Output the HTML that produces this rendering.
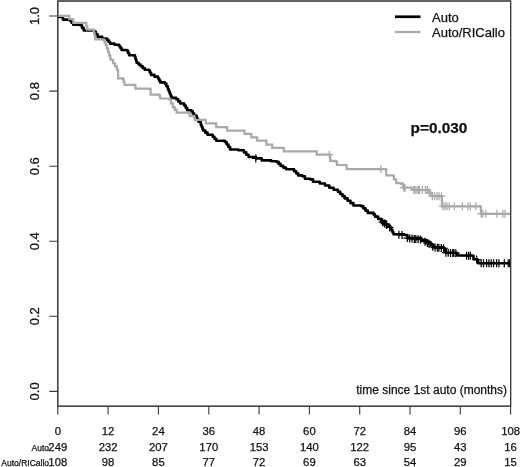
<!DOCTYPE html>
<html><head><meta charset="utf-8"><title>Survival</title>
<style>html,body{margin:0;padding:0;background:#fff;}body{width:520px;height:467px;position:relative;overflow:hidden;font-family:"Liberation Sans",sans-serif;}</style>
</head><body>
<svg width="520" height="467" viewBox="0 0 520 467" style="position:absolute;left:0;top:0;filter:grayscale(1)">
<rect x="57.8" y="1.0" width="452.84999999999997" height="405.2" fill="none" stroke="#3a3a3a" stroke-width="1.1"/>
<path d="M57.8,406.2V414.4M108.1,406.2V414.4M158.4,406.2V414.4M208.8,406.2V414.4M259.1,406.2V414.4M309.4,406.2V414.4M359.7,406.2V414.4M410.0,406.2V414.4M460.3,406.2V414.4M510.6,406.2V414.4M57.8,391.4H49.3M57.8,316.3H49.3M57.8,241.2H49.3M57.8,166.2H49.3M57.8,91.1H49.3M57.8,16.0H49.3" stroke="#3a3a3a" stroke-width="1.1" fill="none"/>
<defs><clipPath id="pc"><rect x="57.8" y="1.0" width="452.84999999999997" height="405.2"/></clipPath></defs><g clip-path="url(#pc)">
<path d="M58.0,17.0H62.90V19.60H69.90V20.70H71.60V22.75H73.30V24.80H80.3V25.3H82.00V27.90H83.70V30.50H94.20V31.70H95.90V34.30H97.60V36.90H102.20V38.60H106.90V39.80H108.45V41.70H110.00V43.60H114.50V44.80H119.20V46.20H120.40V48.10H121.60V50.00H126.8V50.6H127.95V52.90H129.10V55.20H134.90V57.00H135.47V58.90H136.03V60.80H136.60V62.70H138.60V64.45H140.60V66.20H142.65V67.95H144.70V69.70H148.7V70.3H149.85V72.60H151.00V74.90H154.50V76.65H158.00V78.40H159.15V80.40H160.30V82.40H164.90V83.60H166.35V86.30H167.80V89.00H168.73V91.22H169.65V93.45H170.57V95.68H171.50V97.90H176.20V99.30H178.20V101.40H180.20V103.50H184.20V105.50H185.70V107.85H187.20V110.20H191.40V111.20H192.80V113.50H194.20V115.80H196.70V118.00H197.60V119.90H198.50V121.80H200.80V124.90H201.60V126.77H202.40V128.63H203.20V130.50H205.35V132.65H207.50V134.80H212.70V136.80H214.45V138.80H216.20V140.80H224.90V142.00H226.63V144.50H228.37V147.00H230.10V149.50H238.2V150.3H243.90V152.40H246.25V154.70H248.60V157.00H256.00V158.40H261.70V160.40H271.2V161.2H276.6V161.9H278.60V163.90H280.60V165.90H283.30V167.60H286.00V169.30H294.10V171.30H296.15V173.35H298.20V175.40H302.20V176.30H304.90V178.70H310.3V179.4H313.00V181.70H319.80V183.50H325.00V185.50H329.30V187.80H333.60V189.75H337.90V191.70H340.17V193.93H342.43V196.17H344.70V198.40H347.60V200.77H350.50V203.13H353.40V205.50H361.0V206.1H363.27V208.37H365.53V210.63H367.80V212.90H373.60V214.40H375.0V216.6H378.10V218.90H381.20V221.20H385.80V224.30H388.10V226.20H390.40V228.10H391.43V230.17H392.47V232.23H393.50V234.30H404.3V235.0H407.40V238.10H421.20V239.70H425.80V242.00H430.50V244.80H433.50V247.40H443.5V248.1H444.65V250.40H445.80V252.70H456.6V253.2H457.3V255.5H472.7V255.8H473.5V259.2H477.4V259.7H478.1V263.2H510.5V263.2" stroke="#000" stroke-width="2.6" fill="none" stroke-linejoin="round"/>
<path d="M255.8,154.4V162.4M251.8,158.4H259.8M382.7,218.2V226.2M378.7,222.2H386.7M384.6,219.5V227.5M380.6,223.5H388.6M386.6,221.0V229.0M382.6,225.0H390.6M389.6,223.4V231.4M385.6,227.4H393.6M398.9,230.7V238.7M394.9,234.7H402.9M402.0,230.9V238.9M398.0,234.9H406.0M407.4,234.1V242.1M403.4,238.1H411.4M409.7,234.4V242.4M405.7,238.4H413.7M412.0,234.6V242.6M408.0,238.6H416.0M414.3,234.9V242.9M410.3,238.9H418.3M415.8,235.1V243.1M411.8,239.1H419.8M418.1,235.3V243.3M414.1,239.3H422.1M420.5,235.6V243.6M416.5,239.6H424.5M425.1,237.7V245.7M421.1,241.7H429.1M427.4,239.0V247.0M423.4,243.0H431.4M428.9,239.8V247.8M424.9,243.8H432.9M432.8,242.8V250.8M428.8,246.8H436.8M435.1,243.5V251.5M431.1,247.5H439.1M437.4,243.7V251.7M433.4,247.7H441.4M438.9,243.8V251.8M434.9,247.8H442.9M441.3,243.9V251.9M437.3,247.9H445.3M443.6,244.3V252.3M439.6,248.3H447.6M445.9,248.7V256.7M441.9,252.7H449.9M448.2,248.8V256.8M444.2,252.8H452.2M450.5,248.9V256.9M446.5,252.9H454.5M452.8,249.0V257.0M448.8,253.0H456.8M453.8,249.1V257.1M449.8,253.1H457.8M455.8,249.2V257.2M451.8,253.2H459.8M466.6,251.7V259.7M462.6,255.7H470.6M468.6,251.7V259.7M464.6,255.7H472.6M470.4,251.8V259.8M466.4,255.8H474.4M476.6,255.6V263.6M472.6,259.6H480.6M481.2,259.2V267.2M477.2,263.2H485.2M483.5,259.2V267.2M479.5,263.2H487.5M486.6,259.2V267.2M482.6,263.2H490.6M488.9,259.2V267.2M484.9,263.2H492.9M491.2,259.2V267.2M487.2,263.2H495.2M493.6,259.2V267.2M489.6,263.2H497.6M496.6,259.2V267.2M492.6,263.2H500.6M498.9,259.2V267.2M494.9,263.2H502.9M504.3,259.2V267.2M500.3,263.2H508.3M508.2,259.2V267.2M504.2,263.2H512.2M509.7,259.2V267.2M505.7,263.2H513.7" stroke="#000" stroke-width="1.25" fill="none"/>
<path d="M58.0,15.9H69.3V15.9H69.3V19.2H73.3V19.2H73.3V22.8H85.5V22.8H86.35V26.20H87.20V29.60H93.4V30.2H94.03V33.27H94.67V36.33H95.30V39.40H103.4V39.8H104.55V42.40H105.70V45.00H106.85V48.48H108.00V51.95H109.15V55.42H110.30V58.90H111.2V60.0H113.10V63.23H115.00V66.47H116.90V69.70H118.1V78.4H122.7V78.9H123.60V81.90H124.50V84.90H134.9V85.2H135.4V88.6H149.6V88.8H150.6V94.7H159.3V95.6H160.2V98.5H169.00V99.50H170.90V103.35H172.80V107.20H174.70V109.90H176.60V112.60H189.4V113.1H189.7V116.2H193.9V116.6H194.6V119.8H205.7V120.1H205.7V123.3H215.8V123.8H216.2V127.2H226.4V127.4H227.2V130.6H244.1V130.9H244.5V133.9H250.9V134.4H251.4V137.3H256.6V137.6H257.2V140.7H265.5V140.8H266.4V144.7H271.2V144.7H272.2V147.8H282.8V148.2H283.8V151.4H316.7V151.6H316.7V154.7H329.3V154.7H330.2V160.8H336.00V161.80H337.0V165.0H346.6V165.6H346.6V169.1H386.2V169.1H386.2V175.4H393.1V175.7H393.9V179.3H396.2V180.0H396.2V183.1H401.6V183.9H403.10V187.70H411.6V187.7H412.4V190.0H428.6V190.0H429.3V192.7H431.6V193.1H431.6V196.2H441.9V196.2H441.9V206.3H480.5V206.3H480.9V213.8H510.5V213.8" stroke="#a9a9a9" stroke-width="2.2" fill="none" stroke-linejoin="miter"/>
<path d="M329.3,150.7V158.7M325.3,154.7H333.3M381.0,165.1V173.1M377.0,169.1H385.0M403.8,183.7V191.7M399.8,187.7H407.8M405.0,183.7V191.7M401.0,187.7H409.0M413.9,186.0V194.0M409.9,190.0H417.9M415.1,186.0V194.0M411.1,190.0H419.1M417.0,186.0V194.0M413.0,190.0H421.0M418.5,186.0V194.0M414.5,190.0H422.5M419.6,186.0V194.0M415.6,190.0H423.6M422.4,186.0V194.0M418.4,190.0H426.4M425.5,186.0V194.0M421.5,190.0H429.5M427.3,186.0V194.0M423.3,190.0H431.3M429.3,188.7V196.7M425.3,192.7H433.3M432.4,192.2V200.2M428.4,196.2H436.4M434.7,192.2V200.2M430.7,196.2H438.7M437.0,192.2V200.2M433.0,196.2H441.0M439.0,192.2V200.2M435.0,196.2H443.0M441.5,192.2V200.2M437.5,196.2H445.5M443.0,202.3V210.3M439.0,206.3H447.0M445.0,202.3V210.3M441.0,206.3H449.0M447.0,202.3V210.3M443.0,206.3H451.0M449.2,202.3V210.3M445.2,206.3H453.2M454.3,202.3V210.3M450.3,206.3H458.3M462.4,202.3V210.3M458.4,206.3H466.4M468.1,202.3V210.3M464.1,206.3H472.1M470.4,202.3V210.3M466.4,206.3H474.4M475.8,202.3V210.3M471.8,206.3H479.8M481.2,209.8V217.8M477.2,213.8H485.2M482.8,209.8V217.8M478.8,213.8H486.8M485.8,209.8V217.8M481.8,213.8H489.8M496.9,209.8V217.8M492.9,213.8H500.9M502.8,209.8V217.8M498.8,213.8H506.8M505.1,209.8V217.8M501.1,213.8H509.1" stroke="#a9a9a9" stroke-width="1.25" fill="none"/>
</g>
<rect x="57.8" y="1.0" width="452.84999999999997" height="405.2" fill="none" stroke="#3a3a3a" stroke-width="1.1"/>
<path d="M395,16.75H420.5" stroke="#000" stroke-width="2.7"/>
<path d="M395,32H420.5" stroke="#a9a9a9" stroke-width="2.2"/>
<text x="432" y="21.8" font-family="Liberation Sans, sans-serif" stroke="#111" stroke-width="0.25" font-size="13" fill="#111">Auto</text>
<text x="432" y="37.1" font-family="Liberation Sans, sans-serif" stroke="#111" stroke-width="0.25" font-size="13" fill="#111">Auto/RICallo</text>
<text x="410.5" y="132.6" font-family="Liberation Sans, sans-serif" stroke="#111" stroke-width="0.25" font-size="15.4" font-weight="bold" fill="#111">p=0.030</text>
<text x="507" y="394.3" font-family="Liberation Sans, sans-serif" stroke="#111" stroke-width="0.25" font-size="12" text-anchor="end" fill="#111">time since 1st auto (months)</text>
<text x="57.8" y="435.0" font-family="Liberation Sans, sans-serif" stroke="#111" stroke-width="0.25" font-size="11.3" text-anchor="middle" fill="#111">0</text>
<text x="57.8" y="450.5" font-family="Liberation Sans, sans-serif" stroke="#111" stroke-width="0.25" font-size="11.3" text-anchor="middle" fill="#111">249</text>
<text x="57.8" y="466" font-family="Liberation Sans, sans-serif" stroke="#111" stroke-width="0.25" font-size="11.3" text-anchor="middle" fill="#111">108</text>
<text x="108.1" y="435.0" font-family="Liberation Sans, sans-serif" stroke="#111" stroke-width="0.25" font-size="11.3" text-anchor="middle" fill="#111">12</text>
<text x="108.1" y="450.5" font-family="Liberation Sans, sans-serif" stroke="#111" stroke-width="0.25" font-size="11.3" text-anchor="middle" fill="#111">232</text>
<text x="108.1" y="466" font-family="Liberation Sans, sans-serif" stroke="#111" stroke-width="0.25" font-size="11.3" text-anchor="middle" fill="#111">98</text>
<text x="158.4" y="435.0" font-family="Liberation Sans, sans-serif" stroke="#111" stroke-width="0.25" font-size="11.3" text-anchor="middle" fill="#111">24</text>
<text x="158.4" y="450.5" font-family="Liberation Sans, sans-serif" stroke="#111" stroke-width="0.25" font-size="11.3" text-anchor="middle" fill="#111">207</text>
<text x="158.4" y="466" font-family="Liberation Sans, sans-serif" stroke="#111" stroke-width="0.25" font-size="11.3" text-anchor="middle" fill="#111">85</text>
<text x="208.8" y="435.0" font-family="Liberation Sans, sans-serif" stroke="#111" stroke-width="0.25" font-size="11.3" text-anchor="middle" fill="#111">36</text>
<text x="208.8" y="450.5" font-family="Liberation Sans, sans-serif" stroke="#111" stroke-width="0.25" font-size="11.3" text-anchor="middle" fill="#111">170</text>
<text x="208.8" y="466" font-family="Liberation Sans, sans-serif" stroke="#111" stroke-width="0.25" font-size="11.3" text-anchor="middle" fill="#111">77</text>
<text x="259.1" y="435.0" font-family="Liberation Sans, sans-serif" stroke="#111" stroke-width="0.25" font-size="11.3" text-anchor="middle" fill="#111">48</text>
<text x="259.1" y="450.5" font-family="Liberation Sans, sans-serif" stroke="#111" stroke-width="0.25" font-size="11.3" text-anchor="middle" fill="#111">153</text>
<text x="259.1" y="466" font-family="Liberation Sans, sans-serif" stroke="#111" stroke-width="0.25" font-size="11.3" text-anchor="middle" fill="#111">72</text>
<text x="309.4" y="435.0" font-family="Liberation Sans, sans-serif" stroke="#111" stroke-width="0.25" font-size="11.3" text-anchor="middle" fill="#111">60</text>
<text x="309.4" y="450.5" font-family="Liberation Sans, sans-serif" stroke="#111" stroke-width="0.25" font-size="11.3" text-anchor="middle" fill="#111">140</text>
<text x="309.4" y="466" font-family="Liberation Sans, sans-serif" stroke="#111" stroke-width="0.25" font-size="11.3" text-anchor="middle" fill="#111">69</text>
<text x="359.7" y="435.0" font-family="Liberation Sans, sans-serif" stroke="#111" stroke-width="0.25" font-size="11.3" text-anchor="middle" fill="#111">72</text>
<text x="359.7" y="450.5" font-family="Liberation Sans, sans-serif" stroke="#111" stroke-width="0.25" font-size="11.3" text-anchor="middle" fill="#111">122</text>
<text x="359.7" y="466" font-family="Liberation Sans, sans-serif" stroke="#111" stroke-width="0.25" font-size="11.3" text-anchor="middle" fill="#111">63</text>
<text x="410.0" y="435.0" font-family="Liberation Sans, sans-serif" stroke="#111" stroke-width="0.25" font-size="11.3" text-anchor="middle" fill="#111">84</text>
<text x="410.0" y="450.5" font-family="Liberation Sans, sans-serif" stroke="#111" stroke-width="0.25" font-size="11.3" text-anchor="middle" fill="#111">95</text>
<text x="410.0" y="466" font-family="Liberation Sans, sans-serif" stroke="#111" stroke-width="0.25" font-size="11.3" text-anchor="middle" fill="#111">54</text>
<text x="460.3" y="435.0" font-family="Liberation Sans, sans-serif" stroke="#111" stroke-width="0.25" font-size="11.3" text-anchor="middle" fill="#111">96</text>
<text x="460.3" y="450.5" font-family="Liberation Sans, sans-serif" stroke="#111" stroke-width="0.25" font-size="11.3" text-anchor="middle" fill="#111">43</text>
<text x="460.3" y="466" font-family="Liberation Sans, sans-serif" stroke="#111" stroke-width="0.25" font-size="11.3" text-anchor="middle" fill="#111">29</text>
<text x="510.6" y="435.0" font-family="Liberation Sans, sans-serif" stroke="#111" stroke-width="0.25" font-size="11.3" text-anchor="middle" fill="#111">108</text>
<text x="510.6" y="450.5" font-family="Liberation Sans, sans-serif" stroke="#111" stroke-width="0.25" font-size="11.3" text-anchor="middle" fill="#111">16</text>
<text x="510.6" y="466" font-family="Liberation Sans, sans-serif" stroke="#111" stroke-width="0.25" font-size="11.3" text-anchor="middle" fill="#111">15</text>
<text x="49" y="450.5" font-family="Liberation Sans, sans-serif" stroke="#111" stroke-width="0.25" font-size="8.5" text-anchor="end" fill="#111">Auto</text>
<text x="49" y="466" font-family="Liberation Sans, sans-serif" stroke="#111" stroke-width="0.25" font-size="8.5" text-anchor="end" fill="#111">Auto/RICallo</text>
<text transform="translate(39,391.4) rotate(-90)" font-family="Liberation Sans, sans-serif" stroke="#111" stroke-width="0.25" font-size="13" text-anchor="middle" fill="#111">0.0</text>
<text transform="translate(39,316.3) rotate(-90)" font-family="Liberation Sans, sans-serif" stroke="#111" stroke-width="0.25" font-size="13" text-anchor="middle" fill="#111">0.2</text>
<text transform="translate(39,241.2) rotate(-90)" font-family="Liberation Sans, sans-serif" stroke="#111" stroke-width="0.25" font-size="13" text-anchor="middle" fill="#111">0.4</text>
<text transform="translate(39,166.2) rotate(-90)" font-family="Liberation Sans, sans-serif" stroke="#111" stroke-width="0.25" font-size="13" text-anchor="middle" fill="#111">0.6</text>
<text transform="translate(39,91.1) rotate(-90)" font-family="Liberation Sans, sans-serif" stroke="#111" stroke-width="0.25" font-size="13" text-anchor="middle" fill="#111">0.8</text>
<text transform="translate(39,16.0) rotate(-90)" font-family="Liberation Sans, sans-serif" stroke="#111" stroke-width="0.25" font-size="13" text-anchor="middle" fill="#111">1.0</text>
</svg>
</body></html>
